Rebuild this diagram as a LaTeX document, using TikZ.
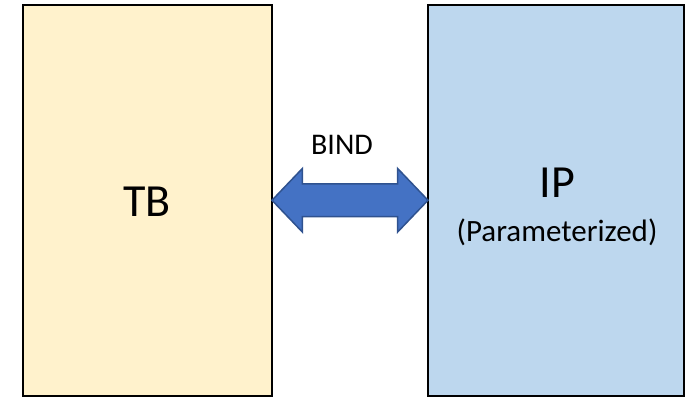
\documentclass[tikz,border=0pt]{standalone}
\usepackage{fontspec}
\setmainfont{Carlito}
\usetikzlibrary{calc}
\definecolor{tbfill}{HTML}{FFF2CC}
\definecolor{ipfill}{HTML}{BDD7EE}
\definecolor{bindfill}{HTML}{4472C4}
\definecolor{bindline}{HTML}{2F528F}
\tikzset{
  blockbox/.style={draw=black, line width=2pt, minimum height=391.5pt, inner sep=0pt, outer sep=0pt},
  bindarrow/.style={fill=bindfill, draw=bindline, line width=1.5pt, line join=miter},
  bigtext/.style={font=\fontsize{46}{55}\selectfont, anchor=base, inner sep=0pt},
  smalltext/.style={font=\fontsize{30}{36}\selectfont, anchor=base, inner sep=0pt},
}
\begin{document}
\begin{tikzpicture}[x=1pt,y=-1pt]
    \useasboundingbox (0,0) rectangle (700,399);
    % the two blocks
    \node[blockbox, fill=tbfill, minimum width=249.5pt] (tb) at (147.25,200.25) {};
    \node[blockbox, fill=ipfill, minimum width=256pt] (ip) at (556,200.25) {};
    % labels
    \node[bigtext] (tblabel) at (147,216.7) {TB};
    \node[bigtext] (iplabel) at (557.5,197.7) {IP};
    \node[smalltext, font=\fontsize{31}{37}\selectfont] (ipnote) at (557,241) {(Parameterized)};
    \node[smalltext] (bindlabel) at (342,154) {BIND};
    % double arrow between the blocks
    \draw[bindarrow] (tb.east) -- ++(30.3,-31.7) -- ++(0,15.4)
        -- ($(ip.west)+(-30.3,-16.3)$) -- ++(0,-15.4) -- (ip.west)
        -- ++(-30.3,31.7) -- ++(0,-15.4)
        -- ($(tb.east)+(30.3,16.3)$) -- ++(0,15.4) -- cycle;
\end{tikzpicture}
\end{document}
